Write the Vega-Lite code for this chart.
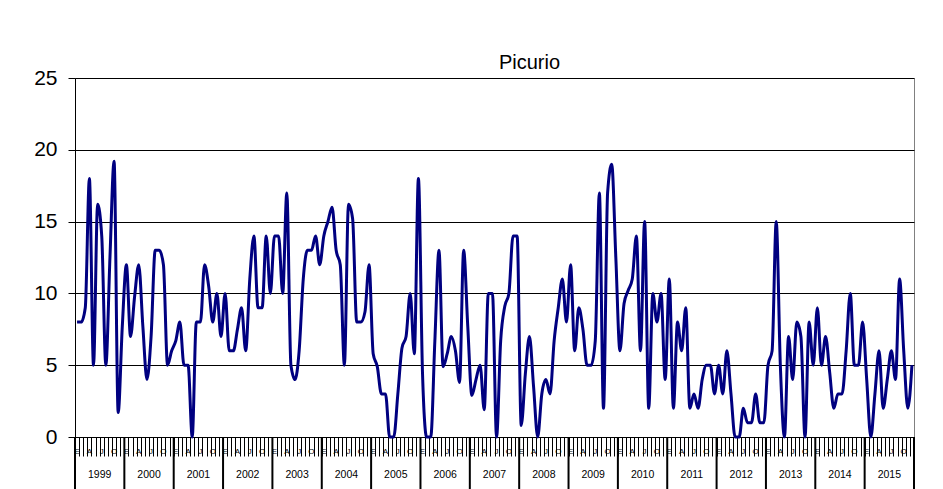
{
  "$schema": "https://vega.github.io/schema/vega-lite/v6.json",
  "autosize": "none",
  "width": 839,
  "height": 359,
  "padding": {"left": 75, "top": 78, "right": 29, "bottom": 52},
  "background": "white",
  "config": {
    "font": "Liberation Sans",
    "view": {"stroke": "#808080", "strokeWidth": 1}
  },
  "title": {"text": "Picurio", "anchor": "middle", "fontSize": 20, "font": "Liberation Sans", "fontWeight": "normal", "color": "black", "dx": 35, "offset": -22, "baseline": "alphabetic"},
  "datasets": {
    "series": [
      {"t":"1999-01","v":8},{"t":"1999-02","v":8},{"t":"1999-03","v":9},{"t":"1999-04","v":18},{"t":"1999-05","v":5},{"t":"1999-06","v":16.2},{"t":"1999-07","v":14},{"t":"1999-08","v":5},{"t":"1999-09","v":12.5},{"t":"1999-10","v":19.2},{"t":"1999-11","v":1.7},{"t":"1999-12","v":7.7},
      {"t":"2000-01","v":12},{"t":"2000-02","v":7},{"t":"2000-03","v":9.8},{"t":"2000-04","v":12},{"t":"2000-05","v":7.7},{"t":"2000-06","v":4},{"t":"2000-07","v":7},{"t":"2000-08","v":13},{"t":"2000-09","v":13},{"t":"2000-10","v":12},{"t":"2000-11","v":5},{"t":"2000-12","v":6},
      {"t":"2001-01","v":6.7},{"t":"2001-02","v":8},{"t":"2001-03","v":5},{"t":"2001-04","v":5},{"t":"2001-05","v":0},{"t":"2001-06","v":8},{"t":"2001-07","v":8},{"t":"2001-08","v":12},{"t":"2001-09","v":10.5},{"t":"2001-10","v":8},{"t":"2001-11","v":10},{"t":"2001-12","v":7},
      {"t":"2002-01","v":10},{"t":"2002-02","v":6},{"t":"2002-03","v":6},{"t":"2002-04","v":7.5},{"t":"2002-05","v":9},{"t":"2002-06","v":6},{"t":"2002-07","v":11},{"t":"2002-08","v":14},{"t":"2002-09","v":9},{"t":"2002-10","v":9},{"t":"2002-11","v":14},{"t":"2002-12","v":10},
      {"t":"2003-01","v":14},{"t":"2003-02","v":14},{"t":"2003-03","v":10},{"t":"2003-04","v":17},{"t":"2003-05","v":5},{"t":"2003-06","v":4},{"t":"2003-07","v":6},{"t":"2003-08","v":11},{"t":"2003-09","v":13},{"t":"2003-10","v":13},{"t":"2003-11","v":14},{"t":"2003-12","v":12},
      {"t":"2004-01","v":14},{"t":"2004-02","v":15},{"t":"2004-03","v":16},{"t":"2004-04","v":13},{"t":"2004-05","v":12},{"t":"2004-06","v":5},{"t":"2004-07","v":16.2},{"t":"2004-08","v":15.2},{"t":"2004-09","v":8},{"t":"2004-10","v":8},{"t":"2004-11","v":8.7},{"t":"2004-12","v":12},
      {"t":"2005-01","v":5.8},{"t":"2005-02","v":4.9},{"t":"2005-03","v":3},{"t":"2005-04","v":3},{"t":"2005-05","v":0},{"t":"2005-06","v":0},{"t":"2005-07","v":3},{"t":"2005-08","v":6.2},{"t":"2005-09","v":7},{"t":"2005-10","v":10},{"t":"2005-11","v":5.8},{"t":"2005-12","v":18},
      {"t":"2006-01","v":4.4},{"t":"2006-02","v":0},{"t":"2006-03","v":0},{"t":"2006-04","v":6.7},{"t":"2006-05","v":13},{"t":"2006-06","v":4.9},{"t":"2006-07","v":5.8},{"t":"2006-08","v":7},{"t":"2006-09","v":6},{"t":"2006-10","v":3.8},{"t":"2006-11","v":13},{"t":"2006-12","v":7.7},
      {"t":"2007-01","v":2.9},{"t":"2007-02","v":4},{"t":"2007-03","v":5},{"t":"2007-04","v":1.9},{"t":"2007-05","v":10},{"t":"2007-06","v":10},{"t":"2007-07","v":0},{"t":"2007-08","v":6.7},{"t":"2007-09","v":9.1},{"t":"2007-10","v":10},{"t":"2007-11","v":14},{"t":"2007-12","v":14},
      {"t":"2008-01","v":0.8},{"t":"2008-02","v":4.4},{"t":"2008-03","v":7},{"t":"2008-04","v":3.5},{"t":"2008-05","v":0},{"t":"2008-06","v":3},{"t":"2008-07","v":4},{"t":"2008-08","v":3},{"t":"2008-09","v":6.7},{"t":"2008-10","v":9},{"t":"2008-11","v":11},{"t":"2008-12","v":8},
      {"t":"2009-01","v":12},{"t":"2009-02","v":6},{"t":"2009-03","v":9},{"t":"2009-04","v":7.5},{"t":"2009-05","v":5},{"t":"2009-06","v":5},{"t":"2009-07","v":6.7},{"t":"2009-08","v":17},{"t":"2009-09","v":2},{"t":"2009-10","v":17},{"t":"2009-11","v":19},{"t":"2009-12","v":12.5},
      {"t":"2010-01","v":6},{"t":"2010-02","v":9.3},{"t":"2010-03","v":10.2},{"t":"2010-04","v":11},{"t":"2010-05","v":14},{"t":"2010-06","v":6},{"t":"2010-07","v":15},{"t":"2010-08","v":2},{"t":"2010-09","v":10},{"t":"2010-10","v":8},{"t":"2010-11","v":10},{"t":"2010-12","v":4},
      {"t":"2011-01","v":11},{"t":"2011-02","v":2},{"t":"2011-03","v":8},{"t":"2011-04","v":6},{"t":"2011-05","v":9},{"t":"2011-06","v":2},{"t":"2011-07","v":3},{"t":"2011-08","v":2},{"t":"2011-09","v":4},{"t":"2011-10","v":5},{"t":"2011-11","v":5},{"t":"2011-12","v":3},
      {"t":"2012-01","v":5},{"t":"2012-02","v":3},{"t":"2012-03","v":6},{"t":"2012-04","v":3},{"t":"2012-05","v":0},{"t":"2012-06","v":0},{"t":"2012-07","v":2},{"t":"2012-08","v":1},{"t":"2012-09","v":1},{"t":"2012-10","v":3},{"t":"2012-11","v":1},{"t":"2012-12","v":1},
      {"t":"2013-01","v":5},{"t":"2013-02","v":6},{"t":"2013-03","v":15},{"t":"2013-04","v":5},{"t":"2013-05","v":0},{"t":"2013-06","v":7},{"t":"2013-07","v":4},{"t":"2013-08","v":8},{"t":"2013-09","v":7},{"t":"2013-10","v":0},{"t":"2013-11","v":8},{"t":"2013-12","v":5},
      {"t":"2014-01","v":9},{"t":"2014-02","v":5},{"t":"2014-03","v":7},{"t":"2014-04","v":4.5},{"t":"2014-05","v":2},{"t":"2014-06","v":3},{"t":"2014-07","v":3},{"t":"2014-08","v":6},{"t":"2014-09","v":10},{"t":"2014-10","v":5},{"t":"2014-11","v":5},{"t":"2014-12","v":8},
      {"t":"2015-01","v":4},{"t":"2015-02","v":0},{"t":"2015-03","v":3},{"t":"2015-04","v":6},{"t":"2015-05","v":2},{"t":"2015-06","v":4},{"t":"2015-07","v":6},{"t":"2015-08","v":4},{"t":"2015-09","v":11},{"t":"2015-10","v":6},{"t":"2015-11","v":2},{"t":"2015-12","v":5}
    ],
    "months": [
      {"t":"1999-01","m":"E"},{"t":"1999-04","m":"A"},{"t":"1999-07","m":"J"},{"t":"1999-10","m":"O"},
      {"t":"2000-01","m":"E"},{"t":"2000-04","m":"A"},{"t":"2000-07","m":"J"},{"t":"2000-10","m":"O"},
      {"t":"2001-01","m":"E"},{"t":"2001-04","m":"A"},{"t":"2001-07","m":"J"},{"t":"2001-10","m":"O"},
      {"t":"2002-01","m":"E"},{"t":"2002-04","m":"A"},{"t":"2002-07","m":"J"},{"t":"2002-10","m":"O"},
      {"t":"2003-01","m":"E"},{"t":"2003-04","m":"A"},{"t":"2003-07","m":"J"},{"t":"2003-10","m":"O"},
      {"t":"2004-01","m":"E"},{"t":"2004-04","m":"A"},{"t":"2004-07","m":"J"},{"t":"2004-10","m":"O"},
      {"t":"2005-01","m":"E"},{"t":"2005-04","m":"A"},{"t":"2005-07","m":"J"},{"t":"2005-10","m":"O"},
      {"t":"2006-01","m":"E"},{"t":"2006-04","m":"A"},{"t":"2006-07","m":"J"},{"t":"2006-10","m":"O"},
      {"t":"2007-01","m":"E"},{"t":"2007-04","m":"A"},{"t":"2007-07","m":"J"},{"t":"2007-10","m":"O"},
      {"t":"2008-01","m":"E"},{"t":"2008-04","m":"A"},{"t":"2008-07","m":"J"},{"t":"2008-10","m":"O"},
      {"t":"2009-01","m":"E"},{"t":"2009-04","m":"A"},{"t":"2009-07","m":"J"},{"t":"2009-10","m":"O"},
      {"t":"2010-01","m":"E"},{"t":"2010-04","m":"A"},{"t":"2010-07","m":"J"},{"t":"2010-10","m":"O"},
      {"t":"2011-01","m":"E"},{"t":"2011-04","m":"A"},{"t":"2011-07","m":"J"},{"t":"2011-10","m":"O"},
      {"t":"2012-01","m":"E"},{"t":"2012-04","m":"A"},{"t":"2012-07","m":"J"},{"t":"2012-10","m":"O"},
      {"t":"2013-01","m":"E"},{"t":"2013-04","m":"A"},{"t":"2013-07","m":"J"},{"t":"2013-10","m":"O"},
      {"t":"2014-01","m":"E"},{"t":"2014-04","m":"A"},{"t":"2014-07","m":"J"},{"t":"2014-10","m":"O"},
      {"t":"2015-01","m":"E"},{"t":"2015-04","m":"A"},{"t":"2015-07","m":"J"},{"t":"2015-10","m":"O"}
    ],
    "years": [
      {"t":"1999-06","year":"1999"},{"t":"2000-06","year":"2000"},{"t":"2001-06","year":"2001"},{"t":"2002-06","year":"2002"},
      {"t":"2003-06","year":"2003"},{"t":"2004-06","year":"2004"},{"t":"2005-06","year":"2005"},{"t":"2006-06","year":"2006"},
      {"t":"2007-06","year":"2007"},{"t":"2008-06","year":"2008"},{"t":"2009-06","year":"2009"},{"t":"2010-06","year":"2010"},
      {"t":"2011-06","year":"2011"},{"t":"2012-06","year":"2012"},{"t":"2013-06","year":"2013"},{"t":"2014-06","year":"2014"},
      {"t":"2015-06","year":"2015"}
    ],
    "yearEnds": [
      {"t":"1999-12"},{"t":"2000-12"},{"t":"2001-12"},{"t":"2002-12"},{"t":"2003-12"},{"t":"2004-12"},{"t":"2005-12"},{"t":"2006-12"},
      {"t":"2007-12"},{"t":"2008-12"},{"t":"2009-12"},{"t":"2010-12"},{"t":"2011-12"},{"t":"2012-12"},{"t":"2013-12"},{"t":"2014-12"},{"t":"2015-12"}
    ],
    "start": [{"t":"1999-01"}]
  },
  "layer": [
    {
      "data": {"name": "series"},
      "mark": {"type": "line", "stroke": "#000080", "strokeWidth": 3, "interpolate": "monotone"},
      "encoding": {
        "x": {
          "field": "t", "type": "ordinal",
          "scale": {"type": "band", "paddingInner": 0, "paddingOuter": 0},
          "axis": {
            "orient": "bottom", "title": null, "tickBand": "extent", "tickSize": 19, "tickColor": "black", "tickWidth": 1,
            "domainColor": "black", "domainWidth": 1, "grid": false, "labels": false
          }
        },
        "y": {
          "field": "v", "type": "quantitative",
          "scale": {"domain": [0, 25], "nice": false},
          "axis": {
            "title": null, "values": [0, 5, 10, 15, 20, 25], "tickSize": 7, "labelPadding": 11, "labelFontSize": 21,
            "labelFont": "Liberation Sans", "labelColor": "black", "domainColor": "black", "tickColor": "black",
            "gridColor": "black", "gridWidth": 1, "gridOpacity": 1, "grid": true
          }
        }
      }
    },
    {
      "data": {"name": "yearEnds"},
      "mark": {"type": "rule", "color": "black", "strokeWidth": 2},
      "encoding": {
        "x": {"field": "t", "type": "ordinal", "bandPosition": 1},
        "y": {"datum": 0, "type": "quantitative"},
        "y2": {"datum": -3.62}
      }
    },
    {
      "data": {"name": "start"},
      "mark": {"type": "rule", "color": "black", "strokeWidth": 2},
      "encoding": {
        "x": {"field": "t", "type": "ordinal", "bandPosition": 0},
        "y": {"datum": 0, "type": "quantitative"},
        "y2": {"datum": -3.62}
      }
    },
    {
      "data": {"name": "months"},
      "mark": {"type": "text", "fontSize": 8, "font": "Liberation Sans", "color": "black", "baseline": "middle", "align": "center"},
      "encoding": {
        "x": {"field": "t", "type": "ordinal", "bandPosition": 0.5},
        "y": {"datum": -1.04, "type": "quantitative"},
        "text": {"field": "m"}
      }
    },
    {
      "data": {"name": "years"},
      "mark": {"type": "text", "fontSize": 10.5, "font": "Liberation Sans", "color": "black", "baseline": "middle", "align": "center"},
      "encoding": {
        "x": {"field": "t", "type": "ordinal", "bandPosition": 1},
        "y": {"datum": -2.64, "type": "quantitative"},
        "text": {"field": "year"}
      }
    }
  ]
}
